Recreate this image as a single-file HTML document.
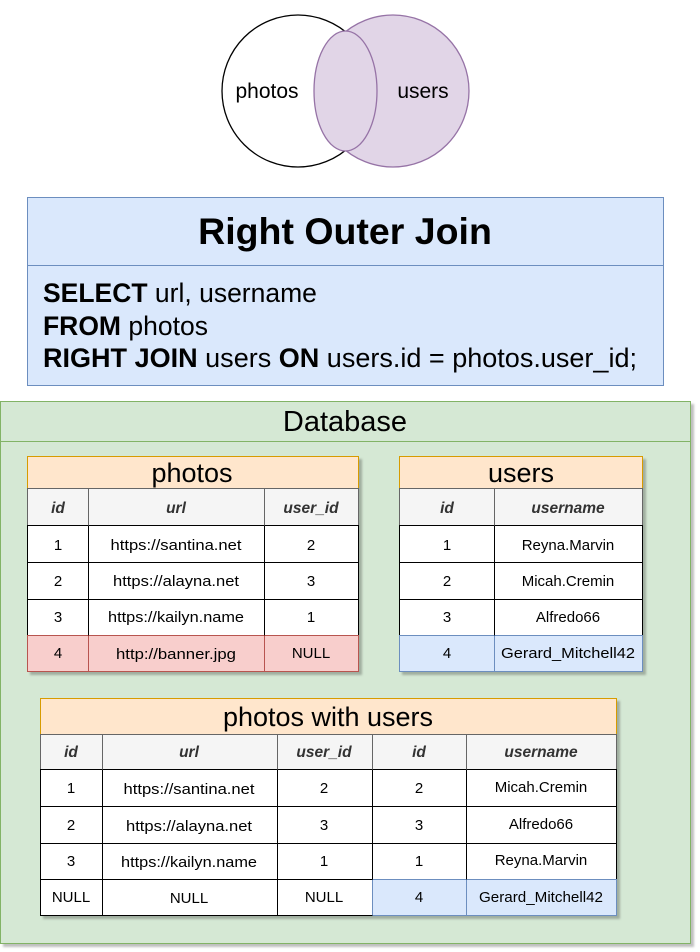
<!DOCTYPE html>
<html><head><meta charset="utf-8"><style>
html,body{margin:0;padding:0;background:#fff;}
svg{display:block;font-family:"Liberation Sans",sans-serif;}
</style></head><body>
<svg width="700" height="952" viewBox="0 0 700 952" xmlns="http://www.w3.org/2000/svg">
<defs><filter id="sh" x="-5%" y="-5%" width="110%" height="110%"><feDropShadow dx="3" dy="3" stdDeviation="1" flood-color="#000" flood-opacity="0.25"/></filter></defs>
<!-- Venn -->
<circle cx="298" cy="91" r="76" fill="#fff" stroke="#000" stroke-width="1.3"/>
<circle cx="393" cy="91" r="76" fill="#e1d5e7" stroke="#9673a6" stroke-width="1.3"/>
<ellipse cx="345.5" cy="91" rx="31.5" ry="60" fill="#e1d5e7" stroke="#9673a6" stroke-width="1.3"/>
<text x="267" y="98" font-size="21" text-anchor="middle">photos</text>
<text x="423" y="98" font-size="21" text-anchor="middle">users</text>
<!-- SQL box -->
<rect x="27.5" y="197.5" width="636" height="188" fill="#dae8fc" stroke="#6c8ebf"/>
<line x1="27.5" y1="265.5" x2="663.5" y2="265.5" stroke="#6c8ebf"/>
<text x="345" y="244" font-size="37.5" font-weight="bold" text-anchor="middle">Right Outer Join</text>
<text x="43" y="302" font-size="26.5"><tspan font-weight="bold">SELECT</tspan> url, username</text>
<text x="43" y="335" font-size="26.5"><tspan font-weight="bold">FROM</tspan> photos</text>
<text x="43" y="367" font-size="26.5" textLength="594" lengthAdjust="spacingAndGlyphs"><tspan font-weight="bold">RIGHT JOIN</tspan> users <tspan font-weight="bold">ON</tspan> users.id = photos.user_id;</text>
<!-- Database -->
<rect x="0.5" y="401.5" width="690" height="542" fill="#d5e8d4" stroke="#82b366" filter="url(#sh)"/>
<line x1="0.5" y1="441.5" x2="690.5" y2="441.5" stroke="#82b366"/>
<text x="345" y="431" font-size="29" text-anchor="middle">Database</text>

<!-- photos table -->
<g filter="url(#sh)">
<rect x="27.5" y="456.5" width="331" height="32" fill="#ffe6cc" stroke="#d79b00"/>
<rect x="27.5" y="488.5" width="331" height="37" fill="#f5f5f5" stroke="#666"/>
<rect x="27.5" y="525.5" width="331" height="110" fill="#fff" stroke="#000"/>
<rect x="27.5" y="635.5" width="331" height="36" fill="#f8cecc" stroke="#b85450"/>
</g>
<g stroke="#000">
<line x1="27.5" y1="562.5" x2="358.5" y2="562.5"/><line x1="27.5" y1="599.5" x2="358.5" y2="599.5"/>
<line x1="88.5" y1="525.5" x2="88.5" y2="635.5"/><line x1="264.5" y1="525.5" x2="264.5" y2="635.5"/>
</g>
<g stroke="#666"><line x1="88.5" y1="488.5" x2="88.5" y2="525.5"/><line x1="264.5" y1="488.5" x2="264.5" y2="525.5"/></g>
<g stroke="#b85450"><line x1="88.5" y1="635.5" x2="88.5" y2="671.5"/><line x1="264.5" y1="635.5" x2="264.5" y2="671.5"/></g>
<text x="192" y="482" font-size="27" text-anchor="middle">photos</text>
<g font-size="15.5" font-style="italic" font-weight="bold" fill="#333" text-anchor="middle">
<text x="58" y="513">id</text><text x="176" y="513">url</text><text x="311" y="513">user_id</text></g>
<g font-size="15" text-anchor="middle">
<text x="58" y="550">1</text><text x="176" y="550" textLength="131" lengthAdjust="spacingAndGlyphs">https://santina.net</text><text x="311" y="550">2</text>
<text x="58" y="586">2</text><text x="176" y="586" textLength="126" lengthAdjust="spacingAndGlyphs">https://alayna.net</text><text x="311" y="586">3</text>
<text x="58" y="622">3</text><text x="176" y="622" textLength="136" lengthAdjust="spacingAndGlyphs">https://kailyn.name</text><text x="311" y="622">1</text>
<text x="58" y="658">4</text><text x="176" y="659" textLength="120" lengthAdjust="spacingAndGlyphs">http://banner.jpg</text><text x="311" y="658">NULL</text></g>

<!-- users table -->
<g filter="url(#sh)">
<rect x="399.5" y="456.5" width="243" height="32" fill="#ffe6cc" stroke="#d79b00"/>
<rect x="399.5" y="488.5" width="243" height="37" fill="#f5f5f5" stroke="#666"/>
<rect x="399.5" y="525.5" width="243" height="110" fill="#fff" stroke="#000"/>
<rect x="399.5" y="635.5" width="243" height="36" fill="#dae8fc" stroke="#6c8ebf"/>
</g>
<g stroke="#000"><line x1="399.5" y1="562.5" x2="642.5" y2="562.5"/><line x1="399.5" y1="599.5" x2="642.5" y2="599.5"/><line x1="494.5" y1="525.5" x2="494.5" y2="635.5"/></g>
<line x1="494.5" y1="488.5" x2="494.5" y2="525.5" stroke="#666"/>
<line x1="494.5" y1="635.5" x2="494.5" y2="671.5" stroke="#6c8ebf"/>
<text x="521" y="482" font-size="27" text-anchor="middle">users</text>
<g font-size="15.5" font-style="italic" font-weight="bold" fill="#333" text-anchor="middle">
<text x="447" y="513">id</text><text x="568" y="513">username</text></g>
<g font-size="15" text-anchor="middle">
<text x="447" y="550">1</text><text x="568" y="550">Reyna.Marvin</text>
<text x="447" y="586">2</text><text x="568" y="586">Micah.Cremin</text>
<text x="447" y="622">3</text><text x="568" y="622">Alfredo66</text>
<text x="447" y="658">4</text><text x="568" y="658" textLength="134" lengthAdjust="spacingAndGlyphs">Gerard_Mitchell42</text></g>

<!-- photos with users -->
<g filter="url(#sh)">
<rect x="40.5" y="698.5" width="576" height="36" fill="#ffe6cc" stroke="#d79b00"/>
<rect x="40.5" y="734.5" width="576" height="35" fill="#f5f5f5" stroke="#666"/>
<rect x="40.5" y="769.5" width="576" height="146" fill="#fff" stroke="#000"/>
<rect x="372.5" y="879.5" width="244" height="36" fill="#dae8fc" stroke="#6c8ebf"/>
</g>
<g stroke="#000">
<line x1="40.5" y1="806.5" x2="616.5" y2="806.5"/><line x1="40.5" y1="843.5" x2="616.5" y2="843.5"/><line x1="40.5" y1="879.5" x2="372.5" y2="879.5"/>
<line x1="102.5" y1="769.5" x2="102.5" y2="915.5"/><line x1="277.5" y1="769.5" x2="277.5" y2="915.5"/><line x1="372.5" y1="769.5" x2="372.5" y2="879.5"/><line x1="466.5" y1="769.5" x2="466.5" y2="879.5"/>
<line x1="40.5" y1="915.5" x2="372.5" y2="915.5"/>
</g>
<g stroke="#666"><line x1="102.5" y1="734.5" x2="102.5" y2="769.5"/><line x1="277.5" y1="734.5" x2="277.5" y2="769.5"/><line x1="372.5" y1="734.5" x2="372.5" y2="769.5"/><line x1="466.5" y1="734.5" x2="466.5" y2="769.5"/></g>
<line x1="466.5" y1="879.5" x2="466.5" y2="915.5" stroke="#6c8ebf"/>
<text x="328" y="726" font-size="27" text-anchor="middle">photos with users</text>
<g font-size="15.5" font-style="italic" font-weight="bold" fill="#333" text-anchor="middle">
<text x="71" y="757">id</text><text x="189" y="757">url</text><text x="324" y="757">user_id</text><text x="419" y="757">id</text><text x="541" y="757">username</text></g>
<g font-size="15" text-anchor="middle">
<text x="71" y="793">1</text><text x="189" y="794" textLength="131" lengthAdjust="spacingAndGlyphs">https://santina.net</text><text x="324" y="793">2</text><text x="419" y="793">2</text><text x="541" y="792">Micah.Cremin</text>
<text x="71" y="830">2</text><text x="189" y="831" textLength="126" lengthAdjust="spacingAndGlyphs">https://alayna.net</text><text x="324" y="830">3</text><text x="419" y="830">3</text><text x="541" y="829">Alfredo66</text>
<text x="71" y="866">3</text><text x="189" y="867" textLength="136" lengthAdjust="spacingAndGlyphs">https://kailyn.name</text><text x="324" y="866">1</text><text x="419" y="866">1</text><text x="541" y="865">Reyna.Marvin</text>
<text x="71" y="902">NULL</text><text x="189" y="903">NULL</text><text x="324" y="902">NULL</text><text x="419" y="902">4</text><text x="541" y="902" textLength="124" lengthAdjust="spacingAndGlyphs">Gerard_Mitchell42</text></g>
</svg>
</body></html>
